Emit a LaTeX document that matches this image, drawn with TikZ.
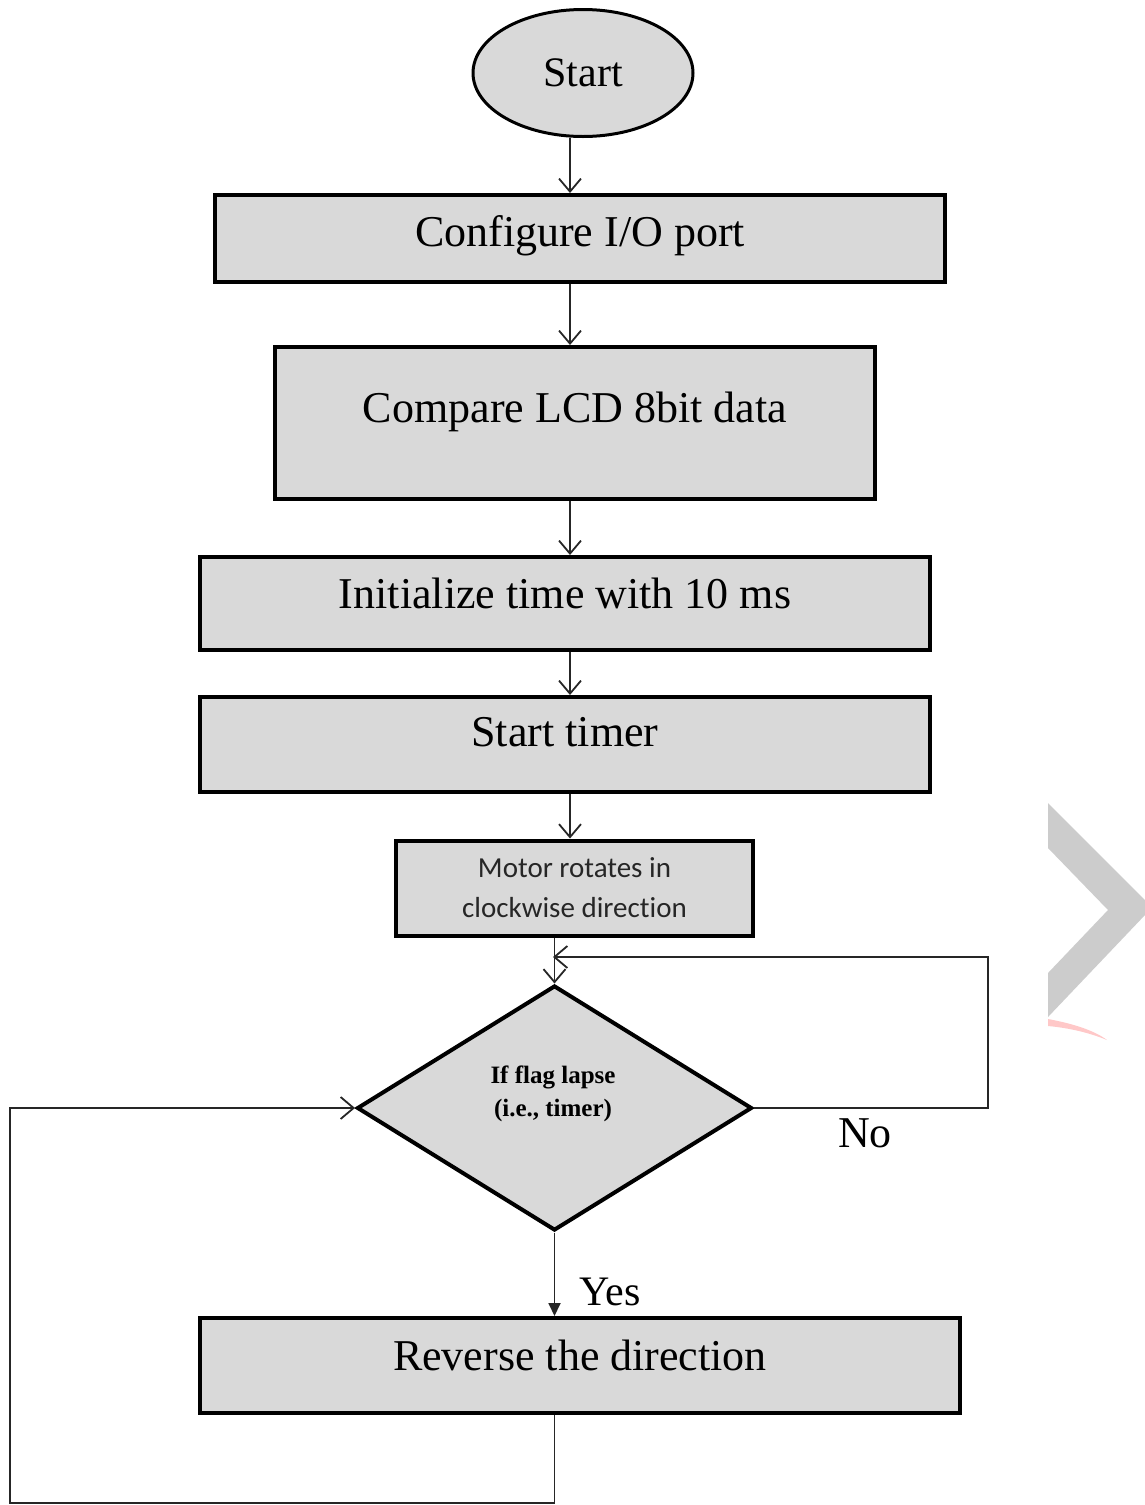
\documentclass[tikz,border=0pt]{standalone}
\usepackage{fontspec}
\setmainfont{Liberation Serif}
\newfontfamily\calib[Ligatures={NoCommon}]{Carlito}
\usetikzlibrary{shapes.geometric,arrows.meta}
\definecolor{boxgray}{RGB}{217,217,217}
\definecolor{wmgray}{RGB}{204,204,204}
\definecolor{wmpink}{RGB}{255,200,200}
\begin{document}
\begin{tikzpicture}[x=1pt,y=-1pt,
  box/.style={draw=black,line width=4pt,fill=boxgray,inner sep=0pt,
    font=\fontsize{44}{52}\selectfont},
  arr/.style={draw=black!85,line width=1.8pt,
    -{Straight Barb[length=13pt,width=22pt]}},
  yesarr/.style={draw=black!85,line width=1.8pt,
    -{Triangle[length=13pt,width=12pt]}},
  lbl/.style={font=\fontsize{44}{52}\selectfont,inner sep=0pt}]
\useasboundingbox (0,0) rectangle (1145,1505);
\fill[white] (0,0) rectangle (1145,1505);

% watermark chevron
\fill[wmgray] (1048,803) -- (1145,900) -- (1145,915) -- (1048,1017)
  -- (1048,973) -- (1108,910) -- (1048,848) -- cycle;
\fill[wmpink] (1048,1019) .. controls (1075,1024) and (1095,1031) .. (1107,1040)
  .. controls (1090,1033) and (1070,1028) .. (1048,1026) -- cycle;

% nodes
\node[ellipse,draw=black,line width=3pt,fill=boxgray,minimum width=220pt,
  minimum height=127pt,inner sep=0pt,font=\fontsize{42}{50}\selectfont]
  (start) at (583,73) {Start};
\node[box,minimum width=730pt,text height=51pt,text depth=36pt]
  (cfg) at (580,238.5) {Configure I/O port};
\node[box,minimum width=600pt,text height=75pt,text depth=77pt]
  (cmp) at (575,423) {Compare LCD 8bit data};
\node[box,minimum width=730pt,text height=51pt,text depth=42pt]
  (init) at (565,603.5) {Initialize time with 10 ms};
\node[box,minimum width=730pt,text height=49pt,text depth=46pt]
  (timer) at (565,744.5) {Start timer};
\node[box,minimum width=357pt,minimum height=95pt,align=center,
  font=\calib\fontsize{29}{40}\selectfont,text=black!85]
  (motor) at (574.5,888) {Motor rotates in\\clockwise direction};
\node[diamond,draw=black,line width=4pt,fill=boxgray,minimum width=395pt,
  minimum height=245pt,inner sep=0pt] (dec) at (554.5,1108) {};
\node[align=center,font=\bfseries\fontsize{25}{33}\selectfont,inner sep=0pt]
  (dtext) at (553,1094) {If flag lapse\\(i.e., timer)};
\node[box,minimum width=760pt,text height=52pt,text depth=43pt]
  (rev) at (580,1365.5) {Reverse the direction};

\node[lbl] (no) at (865,1133) {No};
\node[lbl,font=\fontsize{42}{50}\selectfont] (yes) at (610,1292) {Yes};

% helper coordinates
\coordinate (colA) at (570,0);
\coordinate (nojoin) at (553,957);
\coordinate (nr) at (988,957);
\coordinate (bl) at (10,1503);

% connectors
\draw[arr] (start.south -| colA) -- (cfg.north -| colA);
\draw[arr] (cfg.south -| colA) -- (cmp.north -| colA);
\draw[arr] (cmp.south -| colA) -- (init.north -| colA);
\draw[arr] (init.south -| colA) -- (timer.north -| colA);
\draw[arr] (timer.south -| colA) -- (motor.north -| colA);
\draw[arr] (motor.south -| dec.north) -- (dec.north);
\draw[arr] (dec.east) -| (nr) -- (nojoin);
\draw[yesarr] (dec.south) -- (rev.north -| dec.south);
\draw[arr] (rev.south -| dec.south) |- (bl) |- (dec.west);
\end{tikzpicture}
\end{document}
